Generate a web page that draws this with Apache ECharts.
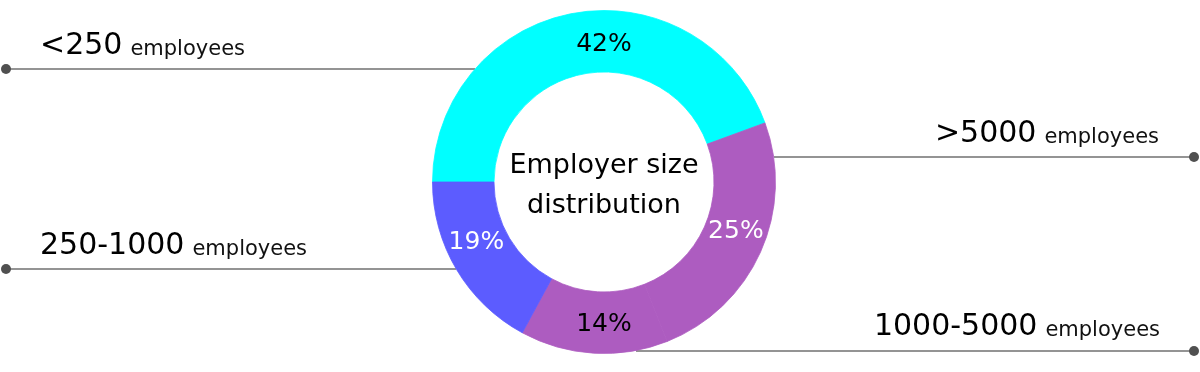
<!DOCTYPE html>
<html>
<head>
<meta charset="utf-8">
<script src="https://cdn.jsdelivr.net/npm/echarts@6/dist/echarts.min.js"></script>
<style>
html,body{margin:0;padding:0;background:#fff;}
#chart{width:1200px;height:372px;}
</style>
</head>
<body>
<div id="chart"></div>
<script>
// ---- data ----
const categories = ['<250', '>5000', '1000-5000', '250-1000'];
const unitLabel = 'employees';
const values = [44.4, 24.6, 13.9, 17.1];
const percentLabels = ['42%', '25%', '14%', '19%'];
const centerTitle = ['Employer size', 'distribution'];

// ---- styles / layout ----
const colors = ['#00FFFF', '#AD5CC0', '#AD5CC0', '#5C5CFF'];
const labelColors = ['#000', '#fff', '#000', '#fff'];
const labelAngles = [90, -19.6, -90, -155.7];
const labelRadius = 140;
const labelDy = 2.5;
const cx = 604, cy = 182, rIn = 110, rOut = 171.5;
const FONT = '"DejaVu Sans", sans-serif';
const BIG = 30, SMALL = 21, GAP = 8, MIDK = 0.35;

const callouts = [
  {y: 69,  dotX: 6,    edgeX: 475, tx: 40,   base: 57,  align: 'left'},
  {y: 157, dotX: 1194, edgeX: 774, tx: 1159, base: 145, align: 'right'},
  {y: 351, dotX: 1194, edgeX: 636, tx: 1160, base: 338, align: 'right'},
  {y: 269, dotX: 6,    edgeX: 456, tx: 40,   base: 257, align: 'left'}
];

const ctx = document.createElement('canvas').getContext('2d');
function measure(t, size) { ctx.font = size + 'px ' + FONT; return ctx.measureText(t).width; }

const chart = echarts.init(document.getElementById('chart'), null, {renderer: 'canvas'});

const graphics = [];
categories.forEach((c, i) => {
  const co = callouts[i];
  graphics.push({
    type: 'line', z: 1, silent: true,
    shape: {x1: co.dotX, y1: co.y, x2: co.edgeX, y2: co.y},
    style: {stroke: '#707070', lineWidth: 1.5}
  });
  graphics.push({
    type: 'circle', z: 3, silent: true,
    shape: {cx: co.dotX, cy: co.y, r: 5},
    style: {fill: '#505050'}
  });
  const wBig = measure(c, BIG), wSmall = measure(unitLabel, SMALL);
  const startX = co.align === 'left' ? co.tx : co.tx - wSmall - GAP - wBig;
  graphics.push({
    type: 'text', z: 3, silent: true,
    style: {
      x: startX, y: co.base - MIDK * BIG, text: c,
      align: 'left', verticalAlign: 'middle',
      fontSize: BIG, fontFamily: FONT, fill: '#000'
    }
  });
  graphics.push({
    type: 'text', z: 3, silent: true,
    style: {
      x: startX + wBig + GAP, y: co.base - MIDK * SMALL, text: unitLabel,
      align: 'left', verticalAlign: 'middle',
      fontSize: SMALL, fontFamily: FONT, fill: '#111'
    }
  });
});
graphics.push({
  type: 'text', z: 3, silent: true,
  style: {
    x: cx, y: cy + 3.5, text: centerTitle.join('\n'),
    align: 'center', verticalAlign: 'middle',
    fontSize: 27, lineHeight: 40, fontFamily: FONT, fill: '#000'
  }
});

chart.setOption({
  animation: false,
  graphic: graphics,
  series: [{
    type: 'pie',
    z: 2,
    center: [cx, cy],
    radius: [rIn, rOut],
    startAngle: 180,
    clockwise: true,
    silent: true,
    avoidLabelOverlap: false,
    emphasis: {disabled: true},
    label: {
      show: true,
      position: 'inside',
      fontSize: 25,
      fontFamily: FONT,
      formatter: p => percentLabels[p.dataIndex]
    },
    labelLine: {show: false},
    labelLayout: function (p) {
      const a = labelAngles[p.dataIndex] * Math.PI / 180;
      return {
        x: cx + labelRadius * Math.cos(a),
        y: cy - labelRadius * Math.sin(a) + labelDy,
        align: 'center',
        verticalAlign: 'middle'
      };
    },
    data: values.map((v, i) => ({
      value: v,
      name: categories[i],
      itemStyle: {color: colors[i], borderColor: colors[i], borderWidth: 0.8},
      label: {color: labelColors[i]}
    }))
  }]
});
</script>
</body>
</html>
